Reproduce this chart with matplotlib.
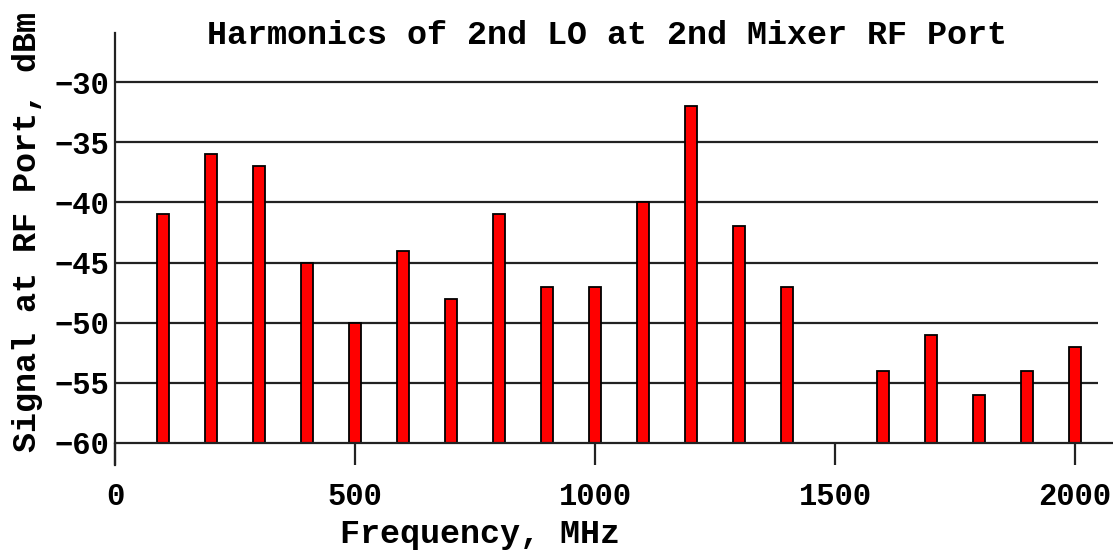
import matplotlib.pyplot as plt

freq = [100, 200, 300, 400, 500, 600, 700, 800, 900, 1000,
        1100, 1200, 1300, 1400, 1600, 1700, 1800, 1900, 2000]
level = [-41, -36, -37, -45, -50, -44, -48, -41, -47, -47,
         -40, -32, -42, -47, -54, -51, -56, -54, -52]
yticks = [-60, -55, -50, -45, -40, -35, -30]
xticks = [0, 500, 1000, 1500, 2000]

plt.rcParams["font.family"] = ["Liberation Mono", "DejaVu Sans Mono"]
plt.rcParams["font.weight"] = "bold"

fig = plt.figure(figsize=(11.13, 5.5), dpi=100)
W, H = 1113, 550
ax = fig.add_axes([115 / W, 1 - 465 / H, (1098 - 115) / W, (465 - 33) / H])

base = -60
ax.bar(freq, [v - base for v in level], bottom=base, width=25,
       color="red", edgecolor="black", linewidth=1.3, zorder=3)

# grid lines
for y in yticks[1:]:
    ax.axhline(y, color="#222222", linewidth=1.6, zorder=1)
ax.plot([0, 2080], [base, base], color="#222222", linewidth=1.6,
        clip_on=False, zorder=4)

ax.set_xlim(0, 2048)
ax.set_ylim(-61.83, -25.92)

for s in ["top", "right"]:
    ax.spines[s].set_visible(False)
ax.spines["left"].set_linewidth(1.6)
ax.spines["left"].set_color("#222222")
ax.spines["bottom"].set_position(("data", base))
ax.spines["bottom"].set_visible(False)

ax.set_xticks(xticks)
ax.set_yticks(yticks)
ax.tick_params(axis="x", direction="out", length=16, width=1.6, color="#222222",
               pad=12, labelsize=22)
ax.tick_params(axis="y", length=0, pad=4, labelsize=22)

fig.text(607 / W, 1 - 35 / H, "Harmonics of 2nd LO at 2nd Mixer RF Port",
         ha="center", va="center", fontsize=24)
fig.text(480 / W, 1 - 535 / H, "Frequency, MHz",
         ha="center", va="center", fontsize=24)
fig.text(28 / W, 1 - 232 / H, "Signal at RF Port, dBm", rotation=90,
         ha="center", va="center", fontsize=24)

fig.savefig("out.png", dpi=100)
